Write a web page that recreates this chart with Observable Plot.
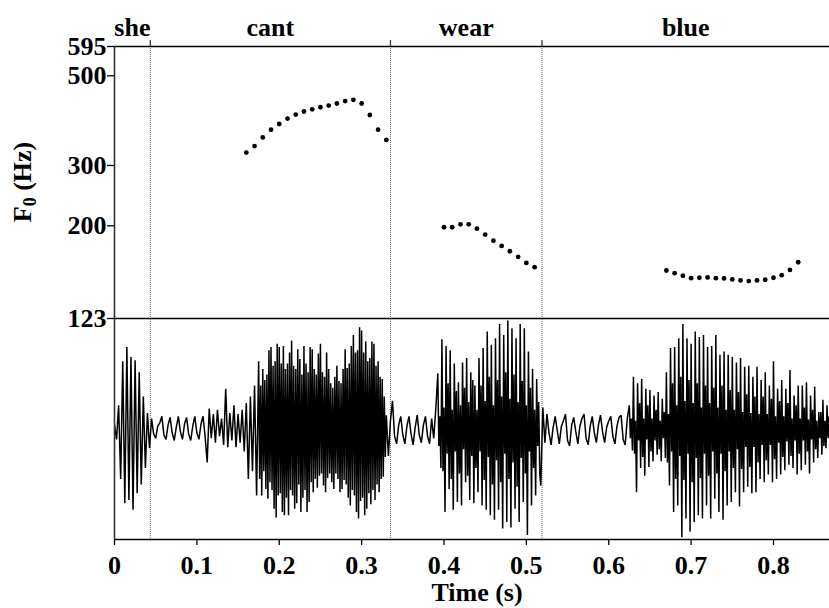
<!DOCTYPE html>
<html>
<head>
<meta charset="utf-8">
<script src="https://cdn.jsdelivr.net/npm/d3@7"></script>
<script src="https://cdn.jsdelivr.net/npm/@observablehq/plot@0.6"></script>
<style>
  body { margin: 0; background: #fff; }
  #chart svg { display: block; }
</style>
</head>
<body>
<div id="chart"></div>
<script>
// Word tier: labels and interval edges (s)
const words = ["she", "cant", "wear", "blue"];
const wordEdges = [0, 0.0435, 0.335, 0.519, 0.868];

// F0 tracks (Hz), one point every 10 ms
const f0Step = 0.01;
const cantF0Start = 0.16;
const cantF0 = [323, 335, 352, 368, 380, 392, 401, 408, 413, 418, 422, 427, 433, 436, 427, 400, 368, 347];
const wearF0Start = 0.40;
const wearF0 = [198.5, 198.5, 202, 202, 197, 191, 185, 180, 175, 170, 164.6, 161];
const blueF0Start = 0.67;
const blueF0 = [158.2, 156, 153.9, 152, 152.3, 152.6, 152, 151.8, 151, 150.2, 149.7, 150.2, 150.7, 152.3, 154.4, 158.7, 165.2];

// F0 axis ticks (Hz)
const f0Ticks = [123, 200, 300, 500, 595];

// Time axis ticks
const timeTicks = [0, 0.1, 0.2, 0.3, 0.4, 0.5, 0.6, 0.7, 0.8];
const timeTickLabels = ["0", "0.1", "0.2", "0.3", "0.4", "0.5", "0.6", "0.7", "0.8"];

// Waveform peaks (relative amplitude, % of full scale), 2.5 ms apart, one block per 100 ms
const waveStep = 0.0025;
const wave000 = [4, -9, 22, -45, 62, -67, 75, -64, 66, -73, 63, -58, 52, -50, 30, -35, 15, -17, 10, -4,
  -8, 3, 6, 12, -5, -9, 4, 11, -3, -10, 2, 12, -2, -9, 5, 11, -4, -10, 3, 12];
const wave100 = [-3, -9, 5, 12, -6, -30, 19, -8, 14, -12, 18, -6, 10, -14, 37, -16, 15, -10, 22, -16,
  14, -12, 18, -20, 24, -45, 30, -38, 40, -60, 62, -48, 55, -54, 72, -63, 75, -80, 66, -72];
const wave200 = [75, -78, 76, -69, 70, -78, 81, -72, 73, -67, 64, -75, 75, -66, 60, -62, 73, -57, 62, -51,
  78, -57, 58, -48, 55, -54, 48, -50, 58, -57, 55, -54, 73, -62, 76, -72, 86, -81, 93, -78];
const wave300 = [88, -72, 80, -68, 80, -64, 70, -57, 55, -43, 31, -19, 13, -24, 8, 26, -6, -13, 4, 12,
  -5, -13, 3, 12, -4, -14, 2, 13, -5, -12, 4, 12, -6, -13, 10, -8, 18, -22, 51, -35];
const wave400 = [82, -75, 76, -54, 72, -73, 60, -66, 43, -69, 61, -48, 65, -64, 52, -67, 40, -57, 65, -69,
  74, -73, 89, -78, 77, -82, 83, -73, 96, -90, 86, -84, 99, -89, 92, -72, 83, -84, 96, -66];
const wave500 = [92, -96, 71, -69, 55, -60, 46, -51, 20, -12, 14, -3, -14, 2, 12, -1, -13, 3, 8, 14,
  -10, -15, 4, 11, -2, -13, 3, 10, 14, -8, -14, 3, 12, -3, -12, 4, 13, -2, -12, 2];
const wave600 = [8, 12, -6, -13, 3, 11, 13, -9, -14, 10, 22, -19, 48, -57, 42, -35, 46, -42, 37, -34,
  36, -29, 31, -23, 34, -29, 28, -26, 52, -51, 74, -75, 75, -69, 83, -98, 96, -81, 83, -93];
const wave700 = [78, -84, 89, -78, 84, -81, 86, -69, 75, -81, 76, -63, 86, -75, 68, -82, 71, -69, 68, -66,
  66, -57, 61, -70, 65, -57, 57, -52, 58, -58, 48, -57, 57, -45, 45, -48, 52, -41, 40, -48];
const wave800 = [62, -45, 37, -41, 45, -37, 37, -32, 54, -35, 31, -41, 40, -37, 40, -32, 43, -40, 31, -30,
  39, -26, 16, -23, 27, -17, 22, -20, 28];
const waveBlocks = [wave000, wave100, wave200, wave300, wave400, wave500, wave600, wave700, wave800];
const waveBlockStarts = [0, 0.1, 0.2, 0.3, 0.4, 0.5, 0.6, 0.7, 0.8];

// Vowels at finer resolution: peaks 1.25 ms apart
const fineStep = 0.00125;
const cantWaveStart = 0.175;
const cantWave = [
  62, -45, 40, -60, 55, -38, 45, -54, 50, -63, 72, -48, 75, -55, 58, -72,
  62, -80, 78, -60, 75, -58, 60, -75, 76, -78, 55, -62, 60, -78, 70, -55,
  81, -60, 58, -72, 55, -67, 73, -50, 64, -75, 50, -62, 76, -55, 60, -75,
  52, -66, 75, -48, 73, -57, 55, -45, 50, -53, 69, -42, 78, -40, 52, -51,
  48, -57, 70, -44, 55, -40, 42, -48, 38, -54, 48, -40, 58, -45, 44, -57,
  42, -54, 55, -46, 73, -50, 56, -62, 60, -69, 76, -55, 86, -60, 70, -75,
  72, -81, 93, -65, 90, -62, 70, -78, 80, -72, 62, -58, 65, -68, 80, -55,
  78, -64, 58, -50, 62, -57, 48, -45, 46, -43, 30, -25];
const wearWaveStart = 0.3925;
const wearWave = [
  51, -15, 12, -35, 82, -38, 20, -75, 76, -22, 42, -54, 72, -45, 18, -73,
  60, -20, 35, -66, 43, -40, 22, -69, 61, -18, 38, -48, 65, -42, 25, -64,
  52, -24, 45, -67, 40, -35, 18, -57, 65, -20, 40, -69, 74, -46, 26, -73,
  89, -25, 48, -78, 77, -50, 22, -82, 83, -28, 45, -73, 96, -48, 30, -90,
  86, -22, 52, -84, 99, -45, 28, -89, 92, -30, 50, -72, 83, -52, 25, -84,
  96, -26, 44, -66, 92, -40, 22, -96, 71, -20, 38, -69, 55, -35, 18, -60,
  46, -15, 25, -40];
const blueWaveStart = 0.625;
const blueWave = [
  22, -8, 10, -19, 48, -22, 8, -57, 42, -10, 24, -35, 46, -25, 10, -42,
  37, -9, 22, -34, 36, -20, 10, -29, 31, -10, 18, -23, 34, -18, 8, -29,
  28, -8, 16, -26, 52, -30, 14, -51, 74, -20, 42, -75, 75, -45, 22, -69,
  83, -24, 48, -98, 96, -46, 26, -81, 83, -22, 45, -93, 78, -48, 24, -84,
  89, -26, 42, -78, 84, -44, 20, -81, 86, -22, 40, -69, 75, -42, 24, -81,
  76, -20, 38, -63, 86, -40, 20, -75, 68, -22, 40, -82, 71, -38, 18, -69,
  68, -20, 36, -66, 66, -35, 18, -57, 61, -18, 34, -70, 65, -36, 16, -57,
  57, -16, 32, -52, 58, -34, 15, -58, 48, -16, 30, -57, 57, -30, 14, -45,
  45, -14, 30, -48, 52, -28, 14, -41, 40, -14, 28, -48, 62, -27, 12, -45,
  37, -12, 26, -41, 45, -25, 12, -37, 37, -11, 24, -32, 54, -24, 10, -35,
  31, -10, 22, -41, 40, -22, 10, -37, 40, -10, 20, -32, 43, -20, 9, -40,
  31, -9, 18, -30, 39, -18, 8, -26, 16, -8, 16, -23, 27, -15, 8, -17,
  22, -8, 12, -20];

// ---- derived tables ----
const wordData = words.map((w, i) => ({word: w, mid: (wordEdges[i] + wordEdges[i + 1]) / 2}));
const innerEdges = wordEdges.slice(1, -1);
const track = (start, values) => values.map((hz, i) => ({t: start + i * f0Step, hz}));
const f0Data = [...track(cantF0Start, cantF0), ...track(wearF0Start, wearF0), ...track(blueF0Start, blueF0)];

const fineSegments = [[cantWaveStart, cantWave], [wearWaveStart, wearWave], [blueWaveStart, blueWave]]
  .map(([start, values]) => ({start, end: start + (values.length - 1) * fineStep,
    points: values.map((a, j) => ({t: start + j * fineStep, a}))}));
const coarsePoints = waveBlocks.flatMap((block, k) =>
    block.map((a, j) => ({t: waveBlockStarts[k] + j * waveStep, a})))
  .filter((d) => !fineSegments.some((s) => d.t > s.start - 1e-9 && d.t <= s.end + 1e-9));
const waveData = [...coarsePoints, ...fineSegments.flatMap((s) => s.points)].sort((a, b) => a.t - b.t);

const xMax = wordEdges[wordEdges.length - 1];
const font = "'Liberation Serif', 'Times New Roman', Times, serif";
const fs = 26;
const baseStyle = {fontFamily: font, fontSize: fs + "px", fontWeight: "bold", background: "white", color: "black", overflow: "visible"};
const textStyle = {fontSize: fs, fontFamily: font, fontWeight: "bold"};
const dotted = {stroke: "#666", strokeWidth: 1, strokeDasharray: "1,1"};

// Upper panel: word tier + F0 points on a log frequency axis
const upper = Plot.plot({
  width: 829, height: 319,
  marginLeft: 114, marginRight: 0, marginTop: 46, marginBottom: 1,
  style: baseStyle,
  x: {domain: [0, xMax], axis: null},
  y: {type: "log", domain: f0Ticks, range: [318, 225.3, 165, 75.3, 46], axis: null},
  marks: [
    Plot.ruleX(innerEdges, dotted),
    Plot.ruleX(innerEdges, {stroke: "#444", strokeWidth: 1.4, insetTop: -6, insetBottom: 272}),
    Plot.ruleY([595], {stroke: "black", strokeWidth: 1.6}),
    Plot.ruleY([123], {stroke: "black", strokeWidth: 1.6}),
    Plot.ruleX([0], {stroke: "#333", strokeWidth: 1.6}),
    Plot.axisY({ticks: f0Ticks, tickFormat: (d) => String(d), tickSize: 7, tickPadding: 1, label: null,
      strokeWidth: 1.3, ...textStyle}),
    Plot.text(wordData, {x: "mid", text: "word", frameAnchor: "top", lineAnchor: "bottom", dy: -11, ...textStyle}),
    Plot.dot(f0Data, {x: "t", y: "hz", r: 2.4, fill: "black"})
  ]
});

// F0 axis title with subscript
const title = d3.select(upper).append("text")
  .attr("transform", "translate(31,182) rotate(-90)")
  .attr("text-anchor", "middle")
  .attr("font-family", font).attr("font-size", fs).attr("font-weight", "bold")
  .attr("fill", "black");
title.append("tspan").text("F");
title.append("tspan").attr("font-size", 18).attr("dy", 5).text("0");
title.append("tspan").attr("dy", -5).text(" (Hz)");

// Lower panel: waveform with the time axis
const lower = Plot.plot({
  width: 829, height: 289,
  marginLeft: 114, marginRight: 0, marginTop: 0, marginBottom: 69,
  style: baseStyle,
  x: {domain: [0, xMax]},
  y: {domain: [-100, 100], axis: null},
  marks: [
    Plot.ruleX(innerEdges, dotted),
    Plot.line(waveData, {x: "t", y: "a", stroke: "black", strokeWidth: 1.5, strokeLinejoin: "bevel", clip: true}),
    Plot.ruleX([0], {stroke: "#333", strokeWidth: 1.6}),
    Plot.ruleY([-100], {stroke: "black", strokeWidth: 1.6}),
    Plot.axisX({ticks: timeTicks, tickFormat: (d) => timeTickLabels[timeTicks.indexOf(d)],
      tickSize: 6, tickPadding: 10, label: null, strokeWidth: 1.3, ...textStyle}),
    Plot.text(["Time (s)"], {text: (d) => d, frameAnchor: "bottom", lineAnchor: "bottom", dy: 61, dx: 5, ...textStyle})
  ]
});

const chart = document.getElementById("chart");
chart.append(upper, lower);
</script>
</body>
</html>
